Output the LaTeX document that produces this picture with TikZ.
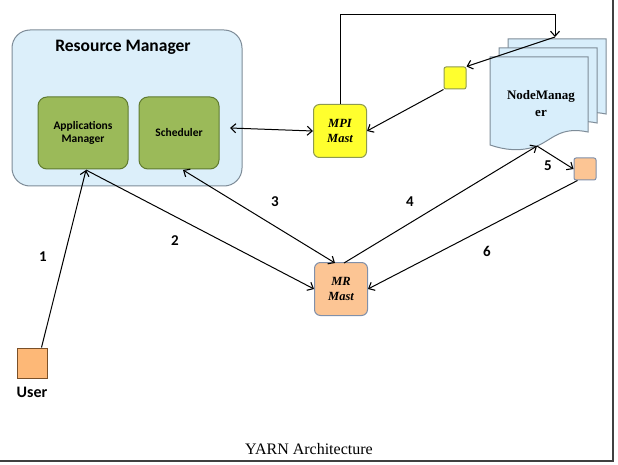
\documentclass[tikz,border=0pt]{standalone}
\usepackage{fontspec}
\setmainfont{Liberation Serif}
\newfontfamily\carlito{Carlito}
\usetikzlibrary{arrows.meta}
\definecolor{rmfill}{HTML}{DCEFFA}
\definecolor{rmdraw}{HTML}{7E8C98}
\definecolor{grfill}{HTML}{9BBA59}
\definecolor{grdraw}{HTML}{5F7A30}
\definecolor{yefill}{HTML}{FFFF2E}
\definecolor{yedraw}{HTML}{8E9A50}
\definecolor{orfill}{HTML}{FCC594}
\definecolor{ordraw}{HTML}{8090AA}
\definecolor{usfill}{HTML}{FDB877}
\definecolor{usdraw}{HTML}{7A5028}
\definecolor{nmfill}{HTML}{D8EEFB}
\definecolor{nmdraw}{HTML}{7E8C98}
\tikzset{
  x=1pt, y=-1pt,
  box/.style={draw, line width=1pt, rounded corners=6pt, inner sep=0pt},
  greenbox/.style={box, fill=grfill, draw=grdraw, minimum width=90pt, minimum height=72pt, rounded corners=9pt, font=\carlito\bfseries\fontsize{11.5}{13}\selectfont, align=center},
  mast/.style={box, draw=ordraw, minimum width=53pt, minimum height=53pt, font=\bfseries\itshape\fontsize{12.5}{15}\selectfont, align=center},
  small/.style={box, rounded corners=2pt, minimum width=22pt, minimum height=22pt},
  conn/.style={line width=1pt, >={Straight Barb[length=5pt,width=9pt,line width=1.1pt]}},
  num/.style={font=\carlito\bfseries\fontsize{15}{15}\selectfont},
  page/.style={fill=nmfill, draw=nmdraw, line width=1pt},
}
\begin{document}
\begin{tikzpicture}
\useasboundingbox (0,0) rectangle (618,465);
\fill[white] (0,0) rectangle (618,465);
% frame lines
\draw[line width=1.5pt, black!75] (613,0) -- (613,461) -- (0,461);
% Resource manager
\node[box, fill=rmfill, draw=rmdraw, rounded corners=18pt, minimum width=230pt, minimum height=156pt] (rm) at (127,108) {};
\node[font=\carlito\bfseries\fontsize{17.5}{17.5}\selectfont] (rmt) at (123,47) {Resource Manager};
\node[greenbox] (am) at (83,133) {Applications\\Manager};
\node[greenbox, minimum width=80pt] (sch) at (179,133) {Scheduler};
% MPI mast
\node[mast, fill=yefill, draw=yedraw] (mpi) at (340,131) {MPI\\Mast};
\node[small, fill=yefill, draw=yedraw] (ys) at (455,78) {};
% MR mast
\node[mast, fill=orfill] (mr) at (341,289) {MR\\Mast};
\node[small, fill=orfill, draw=ordraw] (os) at (585,169) {};
% User
\node[draw=usdraw, fill=usfill, line width=1pt, minimum width=30pt, minimum height=30pt, inner sep=0pt] (user) at (32,363) {};
\node[font=\carlito\bfseries\fontsize{16}{16}\selectfont] (usert) at (32,392) {User};
% NodeManager stack
\foreach \d in {18,9} {
  \draw[page] (490+\d,57-\d) -- (588+\d,57-\d) -- (588+\d,132-\d) .. controls (560+\d,126-\d) and (552+\d,140-\d) .. (537+\d,146-\d) .. controls (520+\d,152-\d) and (505+\d,150-\d) .. (490+\d,145-\d) -- cycle;
}
\draw[page] (490,57) -- (588,57) -- (588,132) .. controls (560,126) and (552,140) .. (537,146) .. controls (520,152) and (505,150) .. (490,145) -- cycle;
\coordinate (nmtop) at (555,37);
\coordinate (nmbot) at (537,146);
\node[font=\bfseries\fontsize{13}{17}\selectfont, align=center] (nmt) at (541,104) {NodeManag\\er};
% caption
\node[font=\fontsize{16}{16}\selectfont] (cap) at (309,449) {YARN Architecture};
% connectors
\draw[conn, ->] (user.north east) ++(-6,0) coordinate (u1) -- (86,170) coordinate (amb);
\draw[conn, ->] (amb) -- (mr.west);
\draw[conn, <->] (183,170) coordinate (schb) -- (335,263);
\draw[conn, <->] (230,128) -- (mpi.west);
\draw[conn, ->] (344,263) -- (nmbot);
\draw[conn, ->] (nmbot) -- (os.west);
\draw[conn, ->] (os.south west) ++(4,0) -- (mr.east);
\draw[conn, ->] (mpi.north) -- (340,15) -- (555,15) -- (nmtop);
\draw[conn, ->] (nmtop) -- (ys.north east);
\draw[conn, ->] (ys.south west) -- (mpi.east);
% numbers
\node[num] (n1) at (43,257) {1};
\node[num] (n2) at (175,241) {2};
\node[num] (n3) at (275,202) {3};
\node[num] (n4) at (410,202) {4};
\node[num] (n5) at (548,166) {5};
\node[num] (n6) at (487,251) {6};
\end{tikzpicture}
\end{document}
